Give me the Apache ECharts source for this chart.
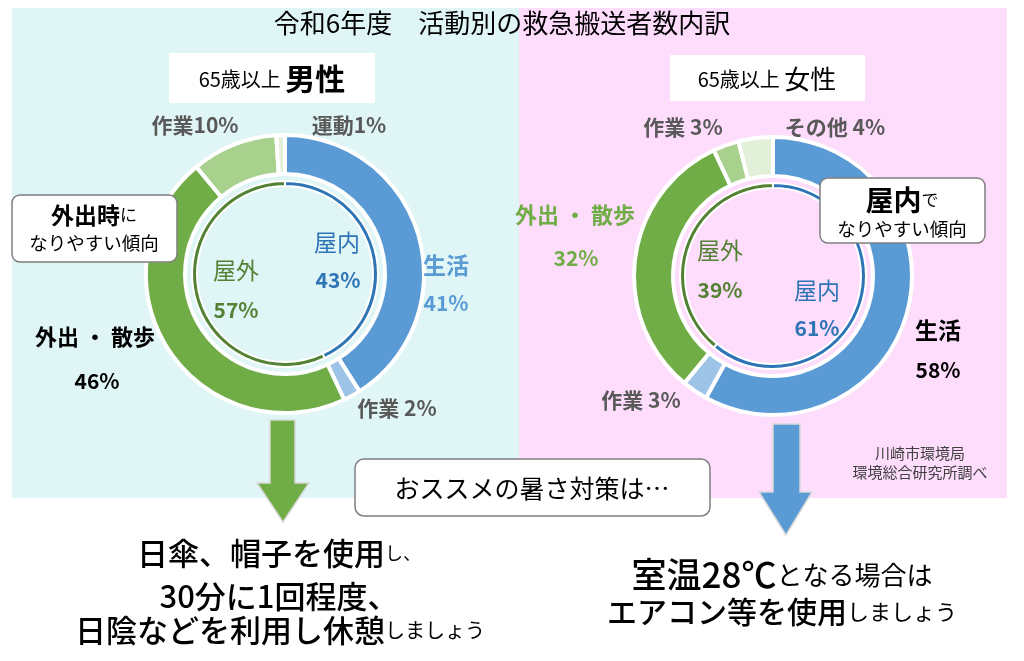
<!DOCTYPE html>
<html><head><meta charset="utf-8">
<script src="https://cdn.jsdelivr.net/npm/echarts@6/dist/echarts.min.js"></script>
<style>html,body{margin:0;padding:0;background:#fff}#c{width:1024px;height:661px}</style>
</head><body><div id="c"></div>
<script>
// ---- data ----
const titleText = '令和6年度　活動別の救急搬送者数内訳';
const maleCats = ['生活', '作業', '外出・散歩', '作業', '運動'];
const maleVals = [41, 2, 46, 10, 1];
const maleInnerCats = ['屋内', '屋外'];
const maleInnerVals = [43, 57];
const femaleCats = ['生活', '作業', '外出・散歩', '作業', 'その他'];
const femaleVals = [58, 3, 32, 3, 4];
const femaleInnerCats = ['屋内', '屋外'];
const femaleInnerVals = [61, 39];

const F = '"Noto Sans CJK JP", "Noto Sans", sans-serif';
const outerColors = ['#5b9bd5', '#9dc3e6', '#70ad47', '#a9d18e', '#e2f0d9'];
const innerColors = ['#2e75b6', '#548235'];
const GRAY = '#595959';

function pieSeries(center, vals, cats, radius, colors, bw) {
  return {
    type: 'pie', center: center, radius: radius, startAngle: 90, clockwise: true,
    silent: true, label: { show: false }, labelLine: { show: false },
    itemStyle: { borderColor: '#ffffff', borderWidth: bw },
    data: vals.map((v, i) => ({ name: cats[i], value: v, itemStyle: { color: colors[i] } }))
  };
}

function txt(x, y, text, size, color, weight, extra) {
  return Object.assign({
    type: 'text', x: x, y: y, z: 20,
    style: { text: text, font: (weight || 'normal') + ' ' + size + 'px ' + F, fill: color,
      align: 'center', verticalAlign: 'middle', textAlign: 'center', textVerticalAlign: 'middle' }
  }, extra || {});
}
function richTxt(x, y, text, rich) {
  const r = {};
  for (const k in rich) r[k] = Object.assign({ fontFamily: F }, rich[k]);
  return {
    type: 'text', x: x, y: y, z: 20,
    style: { text: text, rich: r, align: 'center', verticalAlign: 'middle', textAlign: 'center', textVerticalAlign: 'middle' }
  };
}
function pct(v) { return v + '%'; }
function spaced(s) { return s.replace('・', ' ・ '); }

// male labels
const mLabels = [
  txt(446, 265, maleCats[0], 23, '#5b9bd5', 'bold'),
  txt(446, 303, pct(maleVals[0]), 21, '#5b9bd5', 'bold'),
  txt(397, 408, maleCats[1] + ' ' + pct(maleVals[1]), 21, GRAY, 'bold'),
  txt(95, 337, spaced(maleCats[2]), 22, '#000000', 'bold'),
  txt(97, 381, pct(maleVals[2]), 21, '#000000', 'bold'),
  txt(195, 125, maleCats[3] + pct(maleVals[3]), 21, GRAY, 'bold'),
  txt(349, 125, maleCats[4] + pct(maleVals[4]), 21, GRAY, 'bold'),
  txt(337, 242, maleInnerCats[0], 23, '#2e75b6', 'normal'),
  txt(338, 280, pct(maleInnerVals[0]), 21, '#2e75b6', 'bold'),
  txt(236, 270, maleInnerCats[1], 23, '#548235', 'normal'),
  txt(236, 310, pct(maleInnerVals[1]), 21, '#548235', 'bold')
];
const fLabels = [
  txt(938, 330, femaleCats[0], 23, '#000000', 'bold'),
  txt(938, 370, pct(femaleVals[0]), 21, '#000000', 'bold'),
  txt(641, 400, femaleCats[1] + ' ' + pct(femaleVals[1]), 21, GRAY, 'bold'),
  txt(575, 215, spaced(femaleCats[2]), 22, '#70ad47', 'bold'),
  txt(576, 258, pct(femaleVals[2]), 21, '#70ad47', 'bold'),
  txt(683, 127, femaleCats[3] + ' ' + pct(femaleVals[3]), 21, GRAY, 'bold'),
  txt(835, 127, femaleCats[4] + ' ' + pct(femaleVals[4]), 21, GRAY, 'bold'),
  txt(817, 290, femaleInnerCats[0], 23, '#2e75b6', 'normal'),
  txt(817, 328, pct(femaleInnerVals[0]), 21, '#2e75b6', 'bold'),
  txt(720, 250, femaleInnerCats[1], 23, '#548235', 'normal'),
  txt(720, 290, pct(femaleInnerVals[1]), 21, '#548235', 'bold')
];

const graphics = [
  { type: 'rect', z: 0, shape: { x: 12, y: 8, width: 507, height: 490 }, style: { fill: '#dff5f6' } },
  { type: 'rect', z: 0, shape: { x: 519, y: 8, width: 488, height: 490 }, style: { fill: '#fedcfc' } },
  txt(502, 23, titleText, 26, '#000000', 'normal'),
  { type: 'rect', z: 5, shape: { x: 169, y: 53, width: 206, height: 50 }, style: { fill: '#ffffff' } },
  richTxt(272, 79, '{a|65歳以上 }{b|男性}', { a: { fontSize: 20, fill: '#000' }, b: { fontSize: 30, fontWeight: 'bold', fill: '#000' } }),
  { type: 'rect', z: 5, shape: { x: 670, y: 55, width: 195, height: 46 }, style: { fill: '#ffffff' } },
  richTxt(767, 79, '{a|65歳以上 }{b|女性}', { a: { fontSize: 20, fill: '#000' }, b: { fontSize: 26, fontWeight: 'normal', fill: '#000' } }),
  // callouts
  { type: 'rect', z: 15, shape: { x: 12, y: 195, width: 165, height: 67, r: 8 }, style: { fill: '#ffffff', stroke: '#7f7f7f', lineWidth: 1.5 } },
  richTxt(94, 215, '{a|外出時}{b|に}', { a: { fontSize: 23, fontWeight: 'bold', fill: '#000' }, b: { fontSize: 17, fill: '#000' } }),
  txt(94, 243, 'なりやすい傾向', 18.5, '#000000', 'normal'),
  { type: 'rect', z: 15, shape: { x: 820, y: 178, width: 165, height: 65, r: 8 }, style: { fill: '#ffffff', stroke: '#7f7f7f', lineWidth: 1.5 } },
  richTxt(902, 200, '{a|屋内}{b|で}', { a: { fontSize: 28, fontWeight: 'bold', fill: '#000' }, b: { fontSize: 17, fill: '#000' } }),
  txt(902, 229, 'なりやすい傾向', 18.5, '#000000', 'normal'),
  // arrows
  { type: 'polygon', z: 5, shape: { points: [[270, 420], [295, 420], [295, 483], [309, 483], [283, 522], [257, 483], [270, 483]] },
    style: { fill: '#70ad47', stroke: '#d9d9d9', lineWidth: 1.5 } },
  { type: 'polygon', z: 5, shape: { points: [[773, 424], [800, 424], [800, 492], [812, 492], [786, 535], [759, 492], [773, 492]] },
    style: { fill: '#5b9bd5', stroke: '#d9d9d9', lineWidth: 1.5 } },
  // recommendation box
  { type: 'rect', z: 15, shape: { x: 355, y: 459, width: 355, height: 57, r: 9 }, style: { fill: '#ffffff', stroke: '#7f7f7f', lineWidth: 1.5 } },
  txt(532, 488, 'おススメの暑さ対策は…', 25, '#000000', 'normal'),
  // source
  txt(920, 453, '川崎市環境局', 15, '#404040', 'normal'),
  txt(920, 472, '環境総合研究所調べ', 15, '#404040', 'normal'),
  // bottom texts
  richTxt(279, 553, '{a|日傘、帽子を使用}{b|し、}', { a: { fontSize: 31, fontWeight: '500', fill: '#000' }, b: { fontSize: 18, fill: '#000' } }),
  richTxt(279, 596, '{a|30分に1回程度、}', { a: { fontSize: 31, fontWeight: '500', fill: '#000' } }),
  richTxt(280, 630, '{a|日陰などを利用し休憩}{b|しましょう}', { a: { fontSize: 31, fontWeight: '500', fill: '#000' }, b: { fontSize: 20, fill: '#000' } }),
  richTxt(782, 575, '{a|室温28℃}{b|となる場合は}', { a: { fontSize: 35, fontWeight: '500', fill: '#000' }, b: { fontSize: 26, fill: '#000' } }),
  richTxt(782, 612, '{a|エアコン等を使用}{b|しましょう}', { a: { fontSize: 30, fontWeight: '500', fill: '#000' }, b: { fontSize: 22, fill: '#000' } })
].concat(mLabels, fLabels);

const chart = echarts.init(document.getElementById('c'), null, { renderer: 'canvas' });
chart.setOption({
  animation: false,
  backgroundColor: '#ffffff',
  graphic: { elements: graphics },
  series: [
    Object.assign(pieSeries([285, 274], maleVals, maleCats, [100, 139], outerColors, 4), { z: 3 }),
    Object.assign(pieSeries([285, 274], maleInnerVals, maleInnerCats, [88, 93], innerColors, 2), { z: 3 }),
    Object.assign(pieSeries([773, 276], femaleVals, femaleCats, [100, 139], outerColors, 4), { z: 3 }),
    Object.assign(pieSeries([773, 276], femaleInnerVals, femaleInnerCats, [88, 93], innerColors, 2), { z: 3 })
  ]
});
</script></body></html>
